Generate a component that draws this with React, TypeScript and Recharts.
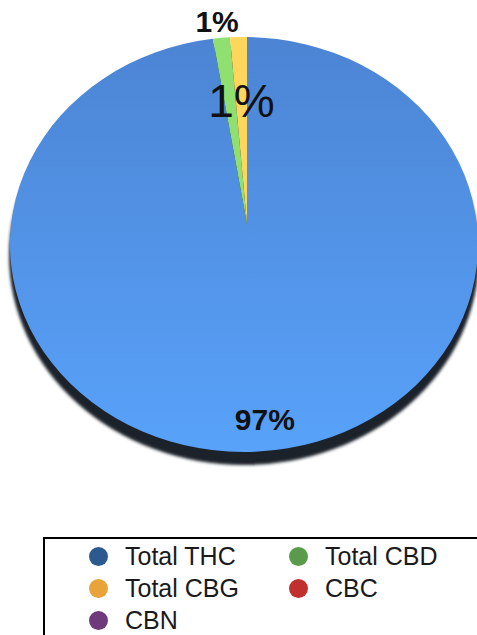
import React from "react";
import { PieChart, Pie, Legend } from "recharts";

const categories = ["Total THC", "Total CBD", "Total CBG", "CBC", "CBN"];
const values = [97.1, 1.45, 1.45, 0, 0];
const sliceColors = ["url(#thcGrad)", "#8fe070", "#fed65c", "#c0302f", "#6e3a7c"];
const legendColors = ["#2d5a8e", "#5a9a4a", "#e8a33b", "#c0302f", "#6e3a7c"];

const data = categories.map((name, i) => ({ name, value: values[i], fill: sliceColors[i] }));

// the pie is drawn as a tilted disc: apex is off the centre of the ellipse
const APEX_X = 247;
const APEX_Y = 224;
const ELL_DX = -3;
const ELL_DY = 20.5;
const RX = 234;
const RY = 207.5;

const RAD = Math.PI / 180;

function rayHit(cx: number, cy: number, angle: number) {
  const ex = cx + ELL_DX;
  const ey = cy + ELL_DY;
  const dx = Math.cos(-angle * RAD);
  const dy = Math.sin(-angle * RAD);
  const u = (cx - ex) / RX;
  const v = (cy - ey) / RY;
  const du = dx / RX;
  const dv = dy / RY;
  const A = du * du + dv * dv;
  const B = 2 * (u * du + v * dv);
  const C = u * u + v * v - 1;
  const t = (-B + Math.sqrt(B * B - 4 * A * C)) / (2 * A);
  return { x: cx + t * dx, y: cy + t * dy, t, dx, dy };
}

const DiscSector = (props: any) => {
  const { cx, cy, startAngle, endAngle, fill, index } = props;
  if (Math.abs(endAngle - startAngle) < 1e-6) return null;
  const p0 = rayHit(cx, cy, startAngle);
  const p1 = rayHit(cx, cy, endAngle);
  const large = Math.abs(endAngle - startAngle) > 180 ? 1 : 0;
  const d = `M${cx},${cy} L${p0.x},${p0.y} A${RX},${RY} 0 ${large} 1 ${p1.x},${p1.y} Z`;
  return (
    <g>
      {index === 0 && (
        <ellipse
          cx={cx + ELL_DX}
          cy={cy + ELL_DY + 11}
          rx={RX + 1}
          ry={RY + 2}
          fill="#1b202b"
          filter="url(#shadowBlur)"
        />
      )}
      <path d={d} fill={fill} stroke="none" />
    </g>
  );
};

const renderLabel = (props: any) => {
  const { cx, cy, midAngle, index, percent } = props;
  if (!percent) return null;
  const txt = `${Math.round(percent * 100)}%`;
  const hit = rayHit(cx, cy, midAngle);
  if (index === 2) {
    const f = 0.66;
    return (
      <text
        x={cx + hit.dx * hit.t * f}
        y={cy + hit.dy * hit.t * f}
        textAnchor="middle"
        dominantBaseline="central"
        fontFamily="Liberation Sans, Arial, sans-serif"
        fontSize={46}
        fontWeight={300}
        fill="#111"
      >
        {txt}
      </text>
    );
  }
  const f = index === 0 ? 0.86 : 1.09;
  return (
    <text
      x={cx + hit.dx * hit.t * f - (index === 1 ? 2 : 0)}
      y={cy + hit.dy * hit.t * f}
      textAnchor="middle"
      dominantBaseline="central"
      fontFamily="Liberation Sans, Arial, sans-serif"
      fontSize={30}
      fontWeight="bold"
      fill="#111"
    >
      {txt}
    </text>
  );
};

const LegendBox = () => (
  <div
    style={{
      position: "absolute",
      left: 43,
      top: 537,
      width: 460,
      height: 120,
      border: "2px solid #000",
      boxSizing: "border-box",
      background: "#fff",
      fontFamily: "Liberation Sans, Arial, sans-serif",
      fontSize: 25,
      color: "#1a1a1a",
    }}
  >
    {categories.map((name, i) => (
      <div
        key={name}
        style={{
          position: "absolute",
          left: 44 + (i % 2) * 200,
          top: 1 + Math.floor(i / 2) * 32,
          height: 32,
          display: "flex",
          alignItems: "center",
          whiteSpace: "nowrap",
        }}
      >
        <span
          style={{
            width: 19,
            height: 19,
            borderRadius: "50%",
            background: legendColors[i],
            display: "inline-block",
            marginRight: 17,
          }}
        />
        {name}
      </div>
    ))}
  </div>
);

export default function App() {
  return (
    <div style={{ position: "absolute", left: 0, top: 0, width: 477, height: 635, overflow: "hidden", background: "#fff" }}>
      <PieChart width={477} height={635} margin={{ top: 0, right: 0, bottom: 0, left: 0 }}>
        <defs>
          <linearGradient id="thcGrad" x1="0" y1="0" x2="0" y2="1">
            <stop offset="0%" stopColor="#4c84d3" />
            <stop offset="100%" stopColor="#58a2fa" />
          </linearGradient>
          <filter id="shadowBlur" x="-10%" y="-10%" width="120%" height="120%">
            <feGaussianBlur stdDeviation="1.5" />
          </filter>
        </defs>
        <Pie
          data={data}
          dataKey="value"
          nameKey="name"
          cx={APEX_X}
          cy={APEX_Y}
          outerRadius={200}
          startAngle={90}
          endAngle={-270}
          stroke="none"
          shape={DiscSector}
          label={renderLabel}
          labelLine={false}
          isAnimationActive={false}
        />
        <Legend content={() => null} wrapperStyle={{ display: "none" }} />
      </PieChart>
      <LegendBox />
    </div>
  );
}
